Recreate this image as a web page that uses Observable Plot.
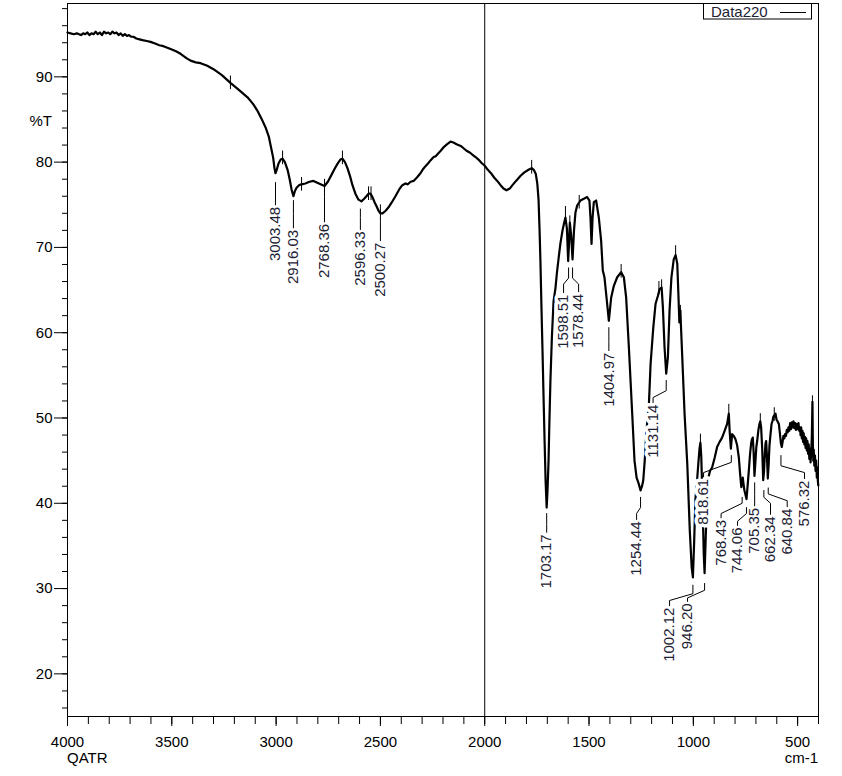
<!DOCTYPE html>
<html><head><meta charset="utf-8">
<script src="https://cdn.jsdelivr.net/npm/d3@7"></script>
<script src="https://cdn.jsdelivr.net/npm/@observablehq/plot@0.6"></script>
<style>
html,body{margin:0;padding:0;background:#fff;}
#chart{position:relative;width:842px;height:776px;}
</style></head><body><div id="chart"></div>
<script>
const wavenumber = [4000,3985,3970,3955,3945,3935,3925,3915,3905,3895,3885,3875,3865,3855,3845,3835,3825,3815,3805,3795,3785,3775,3765,3755,3745,3735,3725,3715,3705,3695,3684,3670,3655,3640,3620,3602,3580,3560,3540,3521,3500,3480,3458,3430,3410,3385,3362,3330,3300,3260,3219,3180,3137,3110,3089,3070,3051,3035,3025,3014,3008,3003,2997,2989,2978,2969,2958,2945,2935,2926,2917,2910,2902,2890,2878,2860,2840,2821,2805,2787,2768,2752,2739,2720,2706,2692,2682,2670,2658,2645,2634,2620,2605,2591,2578,2567,2557,2548,2538,2528,2518,2509,2500,2490,2475,2461,2445,2428,2410,2395,2380,2370,2355,2341,2325,2308,2295,2285,2270,2260,2245,2235,2220,2212,2195,2180,2164,2150,2135,2115,2100,2085,2070,2055,2044,2030,2015,2001,1985,1970,1955,1940,1924,1910,1896,1880,1867,1850,1828,1810,1790,1775,1765,1755,1748,1742,1737,1733,1728,1723,1718,1713,1708,1703,1699,1694,1690,1685,1678,1670,1661,1654,1646,1637,1627,1620,1613,1606,1600,1596,1592,1586,1579,1572,1565,1557,1541,1525,1509,1498,1493,1488,1483,1477,1466,1453,1442,1434,1426,1416,1405,1394,1381,1365,1346,1333,1322,1309,1293,1282,1272,1262,1253,1246,1240,1233,1225,1213,1205,1192,1181,1170,1162,1152,1146,1138,1130,1122,1114,1105,1094,1085,1077,1071,1067,1062,1060,1053,1042,1029,1017,1008,1002,996,990,982,975,970,966,962,956,950,946,940,931,920,910,898,886,874,862,850,838,830,826,820,814,806,798,790,782,776,770,766,763,759,755,750,745,740,734,728,723,719,715,711,707,702,698,694,688,683,679,675,670,665,661,657,654,651,647,643,639,635,630,625,620,617,612,606,601,596,590,585,580,576,572,568,564,560,556,552,548,544,540,536,532,528,524,520,516,512,508,504,500,496,492,489,486,483,480,477,474,471,468,465,462,459,456,453,450,447,444,441,438,435,432,429,427,425,423,420,417,414,411,408,405,403,401];
const transmittance = [95.2,95.1,95.0,95.1,95.0,94.9,95.1,95.0,95.2,94.9,95.1,95.0,95.3,95.0,95.2,94.9,95.3,95.1,95.2,95.0,95.3,95.1,95.2,94.9,95.1,94.8,95.0,94.8,94.9,94.7,94.7,94.5,94.4,94.3,94.2,94.1,93.9,93.7,93.6,93.4,93.2,93.0,92.7,92.2,91.9,91.7,91.6,91.3,90.9,90.2,89.3,88.5,87.6,86.8,86.0,85.1,84.1,83.0,81.8,80.5,79.3,78.7,79.1,79.8,80.3,80.4,80.0,79.1,78.0,76.8,76.0,76.6,77.0,77.3,77.4,77.5,77.7,77.8,77.6,77.4,77.2,77.7,78.3,79.2,79.8,80.3,80.4,80.0,79.3,78.3,77.3,76.3,75.6,75.4,75.7,76.0,76.3,76.3,75.9,75.3,74.8,74.3,74.0,74.0,74.3,74.7,75.3,76.0,76.8,77.3,77.5,77.4,77.7,77.8,78.2,78.7,79.2,79.5,79.9,80.2,80.6,80.7,81.1,81.3,81.8,82.1,82.4,82.3,82.1,81.9,81.6,81.3,81.1,80.8,80.6,80.3,79.9,79.6,79.1,78.7,78.2,77.8,77.3,76.9,76.7,76.9,77.3,77.8,78.4,78.8,79.1,79.3,79.1,78.6,77.5,75.6,72.0,68.4,63.0,57.9,52.5,47.3,42.5,39.5,41.5,45.0,49.5,54.4,59.5,63.7,65.2,67.0,68.7,70.5,72.0,72.8,73.5,72.2,68.4,70.5,72.9,71.5,68.6,72.0,74.1,74.9,75.5,75.7,75.9,75.5,73.5,70.4,73.5,75.3,75.5,73.5,70.8,67.3,66.5,64.1,61.4,64.1,65.5,66.5,67.1,66.5,64.1,58.3,50.5,45.0,43.0,42.3,41.5,42.0,42.7,45.0,48.5,51.6,56.3,60.6,63.4,64.3,65.1,65.3,63.0,58.3,55.2,57.1,62.6,66.5,68.6,69.1,68.1,64.1,61.2,62.6,61.2,57.1,50.5,44.6,36.8,32.5,31.3,35.5,40.5,42.7,45.0,46.5,47.1,45.5,40.3,34.0,31.8,36.5,42.7,43.8,44.2,45.3,46.6,47.2,47.7,48.5,49.3,50.5,48.5,46.4,48.1,47.9,47.5,46.8,45.4,43.5,41.9,42.5,43.0,42.2,41.5,41.0,40.5,42.0,43.8,45.8,47.0,47.5,47.7,46.0,43.2,45.0,46.6,47.3,48.6,49.3,49.6,48.9,46.5,42.7,43.8,45.8,47.0,47.3,45.5,42.9,44.5,46.8,48.1,49.3,49.7,50.1,50.3,50.5,49.8,49.6,49.3,48.2,47.0,46.6,47.2,47.9,47.6,48.1,47.9,48.6,48.3,48.9,48.5,49.4,48.7,49.5,48.9,49.6,48.8,49.4,48.6,49.3,48.7,49.4,48.5,48.9,48.0,48.9,47.6,48.5,47.2,48.2,46.9,47.8,46.5,47.6,46.2,47.3,45.8,46.9,45.2,46.4,44.8,46.0,47.8,51.9,47.0,45.0,46.3,44.4,45.6,43.8,45.0,43.0,44.2,42.6,42.1];

const peakLabels = ["3003.48","2916.03","2768.36","2596.33","2500.27","1703.17","1598.51","1578.44","1404.97","1254.44","1131.14","818.61","1002.12","946.20","768.43","744.06","705.35","662.34","640.84","576.32"];
const peakWn     = [3003,2917,2768,2596,2500,1703,1598,1579,1405,1253,1130,818,1002,946,766,745,706,662,641,580];
const labelWn    = [3003,2917,2768,2596,2500,1703,1622,1550,1405,1272,1193,951,1114,1028,867,788,706,630,550,467];
const leaderTopT = [77.6,75.5,78.0,74.5,75.0,38.8,67.6,67.6,60.6,40.7,54.4,45.6,30.4,30.6,40.7,39.5,42.4,41.5,41.8,45.6];
const bendStartT = [76.5,74.0,76.0,73.5,73.0,37.5,66.4,66.4,59.0,39.5,53.2,44.8,29.4,29.8,40.0,38.8,41.0,40.7,41.1,44.4];
const bendEndT   = [76.5,74.0,76.0,73.5,73.0,37.5,65.7,65.7,59.0,38.8,52.4,43.6,28.6,28.9,38.8,37.9,41.0,40.0,40.3,43.6];
const labelT     = [75.0,72.3,73.0,72.1,70.8,36.6,64.7,64.8,57.9,38.1,51.8,43.1,28.0,28.5,38.3,37.4,39.7,38.7,39.6,42.9];

const maximaWn = [3219,2969,2878,2682,2557,2545,1775,1613,1592,1547,1346,1165,1152,1085,1062,966,830,679,612,429];
const maximaT  = [89.3,80.5,77.4,80.5,76.3,76.3,79.4,74.0,72.9,75.3,67.2,65.2,65.4,69.4,62.4,47.3,50.8,49.7,50.4,51.8];

const xMajorTicks = [4000,3500,3000,2500,2000,1500,1000,500];
const xMinorTicks = d3.range(400, 4001, 100);
const yMajorTicks = [20,30,40,50,60,70,80,90];
const yMinorTicks = d3.range(16, 99, 2);
const seriesName = "Data220";
const yUnit = "%T";
const modeLabel = "QATR";
const xUnit = "cm-1";

const spectrum = wavenumber.map((w, i) => ({w, t: transmittance[i]}));
const leaders = peakLabels.flatMap((label, i) => [
  {label, w: peakWn[i], t: leaderTopT[i]},
  {label, w: peakWn[i], t: bendStartT[i]},
  {label, w: labelWn[i], t: bendEndT[i]},
  {label, w: labelWn[i], t: labelT[i]}
]);
const labels = peakLabels.map((label, i) => ({label, w: labelWn[i], t: labelT[i]}));
const maxima = maximaWn.map((w, i) => ({w, t: maximaT[i]}));

const FONT = "'Liberation Sans', Arial, sans-serif";

const plot = Plot.plot({
  width: 842, height: 776,
  marginTop: 3, marginLeft: 67, marginRight: 24, marginBottom: 60,
  x: {domain: [4000, 400]},
  y: {domain: [15, 98.6]},
  style: {fontFamily: FONT, fontSize: "15px", color: "black", background: "white", overflow: "visible"},
  marks: [
    Plot.frame({stroke: "black", strokeWidth: 1}),
    Plot.ruleX([2000], {stroke: "black", strokeWidth: 1}),
    Plot.axisX({ticks: xMinorTicks, tickSize: 8, tickFormat: () => "", label: null}),
    Plot.axisX({ticks: xMajorTicks, tickSize: 10, tickPadding: 10, tickFormat: d => String(d), label: null}),
    Plot.axisY({ticks: yMinorTicks, tickSize: 5, tickFormat: () => "", label: null}),
    Plot.axisY({ticks: yMajorTicks, tickSize: 13, tickPadding: 2, tickFormat: d => String(d), label: null}),
    Plot.ruleX(maxima, {x: "w", y1: d => d.t - 0.8, y2: d => d.t + 0.8, stroke: "black", strokeWidth: 1}),
    Plot.line(spectrum, {x: "w", y: "t", stroke: "black", strokeWidth: 2.2, strokeLinejoin: "round"}),
    Plot.text(labels, {x: "w", y: "t", text: "label", rotate: -90, textAnchor: "end", dy: 2, fill: "#1c2233", stroke: "white", strokeWidth: 7, strokeLinejoin: "round", fontSize: 15}),
    Plot.line(leaders, {x: "w", y: "t", z: "label", stroke: "black", strokeWidth: 1})
  ]
});

document.getElementById("chart").appendChild(plot);
const svg = d3.select(plot);
const g = svg.append("g").attr("font-family", FONT).attr("font-size", 15).attr("fill", "black");
g.append("text").attr("x", 52).attr("y", 125.5).attr("text-anchor", "end").text(yUnit);
g.append("text").attr("x", 67).attr("y", 763).attr("text-anchor", "start").text(modeLabel);
g.append("text").attr("x", 818).attr("y", 763).attr("text-anchor", "end").text(xUnit);
const leg = svg.append("g");
leg.append("rect").attr("x", 703.5).attr("y", 3.5).attr("width", 108).attr("height", 15.5)
  .attr("fill", "white").attr("stroke", "black").attr("stroke-width", 1);
leg.append("text").attr("x", 711).attr("y", 16.5).attr("text-anchor", "start").attr("font-family", FONT).attr("font-size", 15)
  .attr("fill", "#1c2233").text(seriesName);
leg.append("line").attr("x1", 780).attr("x2", 806).attr("y1", 12.5).attr("y2", 12.5)
  .attr("stroke", "black").attr("stroke-width", 1);
</script>
</body></html>
